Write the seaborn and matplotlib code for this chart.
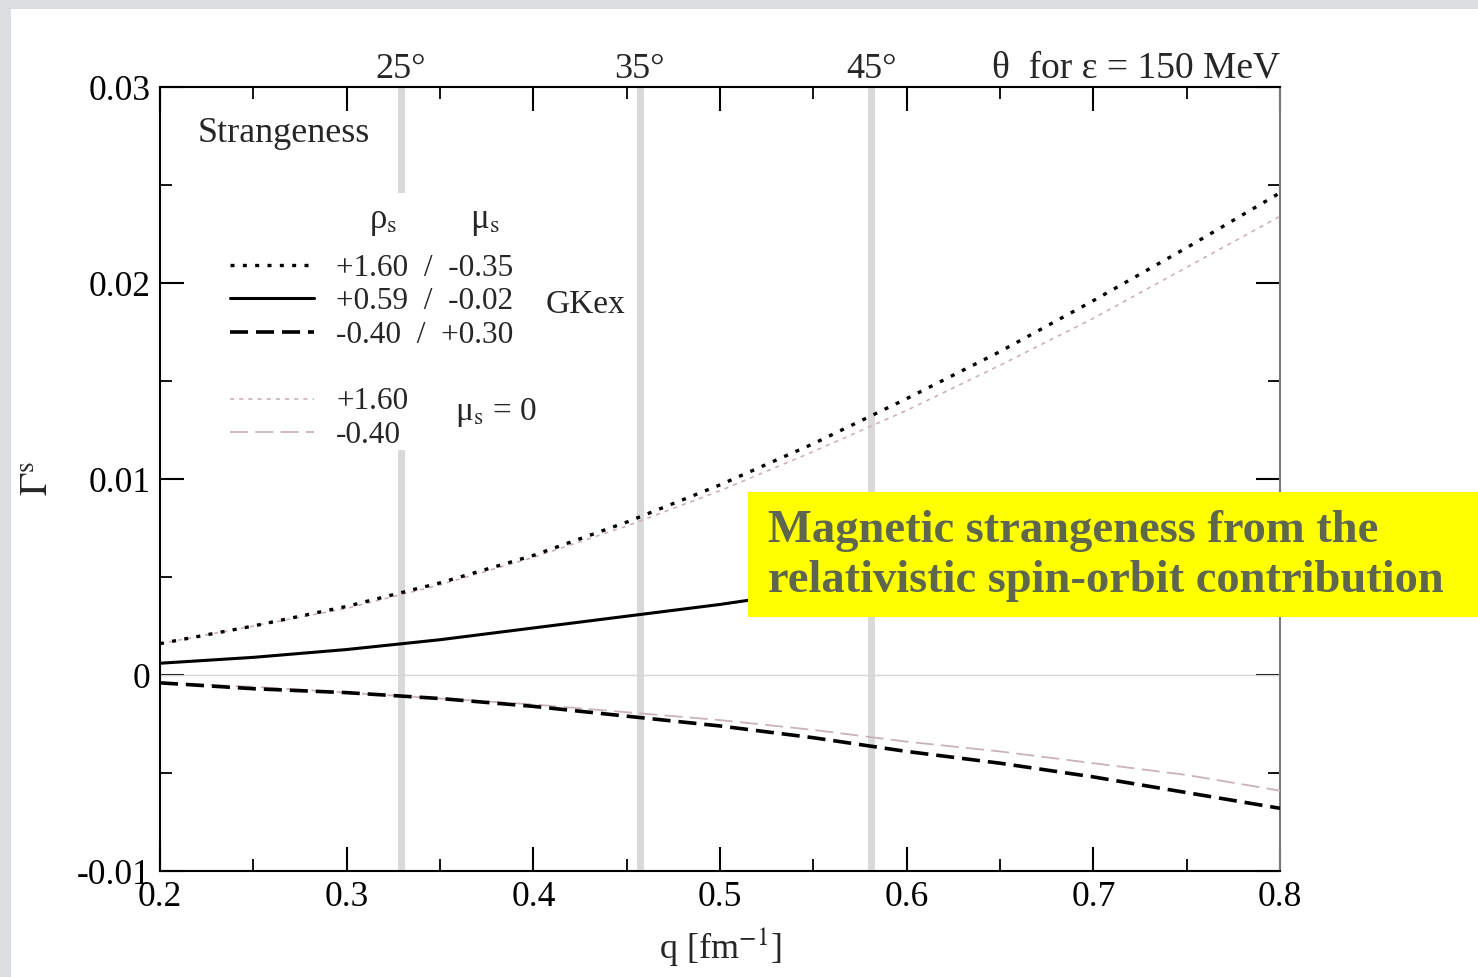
import matplotlib
matplotlib.use("Agg")
import matplotlib.pyplot as plt
import seaborn as sns
from matplotlib.lines import Line2D
from matplotlib.patches import Rectangle
from matplotlib.ticker import MultipleLocator, FixedLocator, FixedFormatter

# ---------------- data ----------------
q = [0.20, 0.25, 0.30, 0.35, 0.40, 0.45, 0.50, 0.55, 0.60, 0.65, 0.70, 0.75, 0.80]
gkex_rho160 = [0.0016, 0.0025, 0.0035, 0.0047, 0.0061, 0.0078, 0.0097, 0.0118, 0.0141, 0.0165, 0.0191, 0.0218, 0.0246]
gkex_rho059 = [0.0006, 0.0009, 0.0013, 0.0018, 0.0024, 0.0030, 0.0036, 0.0043, 0.0051, 0.0060, 0.0069, 0.0079, 0.0090]
gkex_rhom040 = [-0.0004, -0.0007, -0.0009, -0.0012, -0.0016, -0.0021, -0.0026, -0.0032, -0.0039, -0.0045, -0.0052, -0.0060, -0.0068]
mu0_rho160 = [0.0016, 0.0025, 0.0034, 0.0046, 0.0060, 0.0076, 0.0094, 0.0114, 0.0135, 0.0158, 0.0182, 0.0208, 0.0234]
mu0_rhom040 = [-0.0004, -0.0006, -0.0009, -0.0012, -0.0015, -0.0019, -0.0023, -0.0028, -0.0034, -0.0039, -0.0045, -0.0051, -0.0059]

angle_deg = [25, 35, 45]
angle_q = [0.329, 0.457, 0.581]

x_ticks = [0.2, 0.3, 0.4, 0.5, 0.6, 0.7, 0.8]
x_ticklabels = ["0.2", "0.3", "0.4", "0.5", "0.6", "0.7", "0.8"]
y_ticks = [-0.01, 0.0, 0.01, 0.02, 0.03]
y_ticklabels = ["-0.01", "0", "0.01", "0.02", "0.03"]

legend_labels = ["+1.60  /  -0.35", "+0.59  /  -0.02", "-0.40  /  +0.30", "+1.60", "-0.40"]
note_text = "Magnetic strangeness from the\nrelativistic spin-orbit contribution"

# ---------------- style ----------------
sns.set_theme(style="white")
plt.rcParams["font.family"] = ["Liberation Serif", "DejaVu Serif"]
plt.rcParams["mathtext.fontset"] = "stix"

W, H = 1478, 977
fig = plt.figure(figsize=(W / 100, H / 100), dpi=100)
fig.patch.set_facecolor("#dcdde1")
fig.add_artist(Rectangle((11 / W, 0), 1, 1 - 9 / H, transform=fig.transFigure,
                         facecolor="white", edgecolor="none", zorder=-5))

ax = fig.add_axes([160 / W, 1 - 871 / H, 1120 / W, 784 / H])
ax.set_facecolor("white")

# grey angle markers and zero line
for aq in angle_q:
    ax.axvline(aq, color="#d9d9d9", lw=5, zorder=1)
ax.axhline(0, color="#d6d6d6", lw=1, zorder=1)

grey = "#c9b3b8"
sns.lineplot(x=q, y=mu0_rho160, ax=ax, color=grey, lw=1.2,
             linestyle=(0, (2.5, 3)), label=legend_labels[3], zorder=3)
h_gdot = ax.lines[-1]
sns.lineplot(x=q, y=mu0_rhom040, ax=ax, color=grey, lw=1.3,
             linestyle=(0, (10, 4)), label=legend_labels[4], zorder=3)
h_gdash = ax.lines[-1]
sns.lineplot(x=q, y=gkex_rho160, ax=ax, color="black", lw=2.4,
             linestyle=(0, (1.2, 2.5)), label=legend_labels[0], zorder=4)
h_dot = ax.lines[-1]
sns.lineplot(x=q, y=gkex_rho059, ax=ax, color="black", lw=2.2,
             linestyle="-", label=legend_labels[1], zorder=4)
h_solid = ax.lines[-1]
sns.lineplot(x=q, y=gkex_rhom040, ax=ax, color="black", lw=2.6,
             linestyle=(0, (5, 2.2)), label=legend_labels[2], zorder=4)
h_dash = ax.lines[-1]

ax.set_xlim(0.2, 0.8)
ax.set_ylim(-0.01, 0.03)

# ticks
ax.xaxis.set_major_locator(FixedLocator(x_ticks))
ax.xaxis.set_major_formatter(FixedFormatter(x_ticklabels))
ax.yaxis.set_major_locator(FixedLocator(y_ticks))
ax.yaxis.set_major_formatter(FixedFormatter(y_ticklabels))
ax.xaxis.set_minor_locator(MultipleLocator(0.05))
ax.yaxis.set_minor_locator(MultipleLocator(0.005))
ax.tick_params(which="both", direction="in", top=True, right=True, bottom=True,
               left=True, colors="black")
ax.tick_params(which="major", length=17, width=1.5, labelsize=25.5, pad=7)
ax.tick_params(which="minor", length=8.5, width=1.3)

for side in ["left", "bottom", "top"]:
    ax.spines[side].set_color("black")
    ax.spines[side].set_linewidth(1.5)
ax.spines["right"].set_color("#7a7a7a")
ax.spines["right"].set_linewidth(1.5)

ax.set_xlabel(r"q [fm$^{-1}$]", fontsize=26, labelpad=8)
ax.set_ylabel(r"$\Gamma^\mathrm{s}$", fontsize=28, labelpad=14)

# top angle labels
for a, aq in zip(angle_deg, angle_q):
    ax.text(aq, 1.012, f"{a}°", transform=ax.get_xaxis_transform(),
            ha="center", va="baseline", fontsize=26)
ax.text(1.0, 1.012, "θ  for ε = 150 MeV", transform=ax.transAxes,
        ha="right", va="baseline", fontsize=27)

ax.text(0.034, 0.941, "Strangeness", transform=ax.transAxes,
        ha="left", va="center", fontsize=26)

# legend area (white box covering grey marker)
ax.add_patch(Rectangle((0.058, 0.537), 0.364, 0.328, transform=ax.transAxes,
                       facecolor="white", edgecolor="none", zorder=5))
ax.text(0.199, 0.828, r"ρ$_\mathrm{s}$", transform=ax.transAxes, ha="center",
        va="center", fontsize=25, zorder=6)
ax.text(0.290, 0.828, r"μ$_\mathrm{s}$", transform=ax.transAxes, ha="center",
        va="center", fontsize=25, zorder=6)

spacer = Line2D([], [], color="none")
leg = ax.legend([h_dot, h_solid, h_dash, spacer, h_gdot, h_gdash],
                legend_labels[:3] + [""] + legend_labels[3:],
                loc="upper left", bbox_to_anchor=(0.0625, 0.787),
                borderaxespad=0, borderpad=0, frameon=False, fontsize=22.5,
                handlelength=2.7, handletextpad=0.7, labelspacing=0.14)
leg.set_zorder(7)

ax.text(0.344, 0.722, "GKex", transform=ax.transAxes, ha="left",
        va="center", fontsize=24, zorder=8)
ax.text(0.263, 0.585, r"μ$_\mathrm{s}$ = 0", transform=ax.transAxes, ha="left",
        va="center", fontsize=24, zorder=8)

# yellow annotation box
fig.add_artist(Rectangle((748 / W, 1 - 617 / H), 1 - 748 / W, 125 / H,
                         transform=fig.transFigure, facecolor="#ffff00",
                         edgecolor="none", zorder=10))
fig.text(768 / W, 1 - 556 / H, note_text, ha="left", va="center",
         fontsize=33.5, fontweight="bold", color="#5e6650", linespacing=1.25,
         zorder=11)

fig.savefig("out.png", dpi=100)
